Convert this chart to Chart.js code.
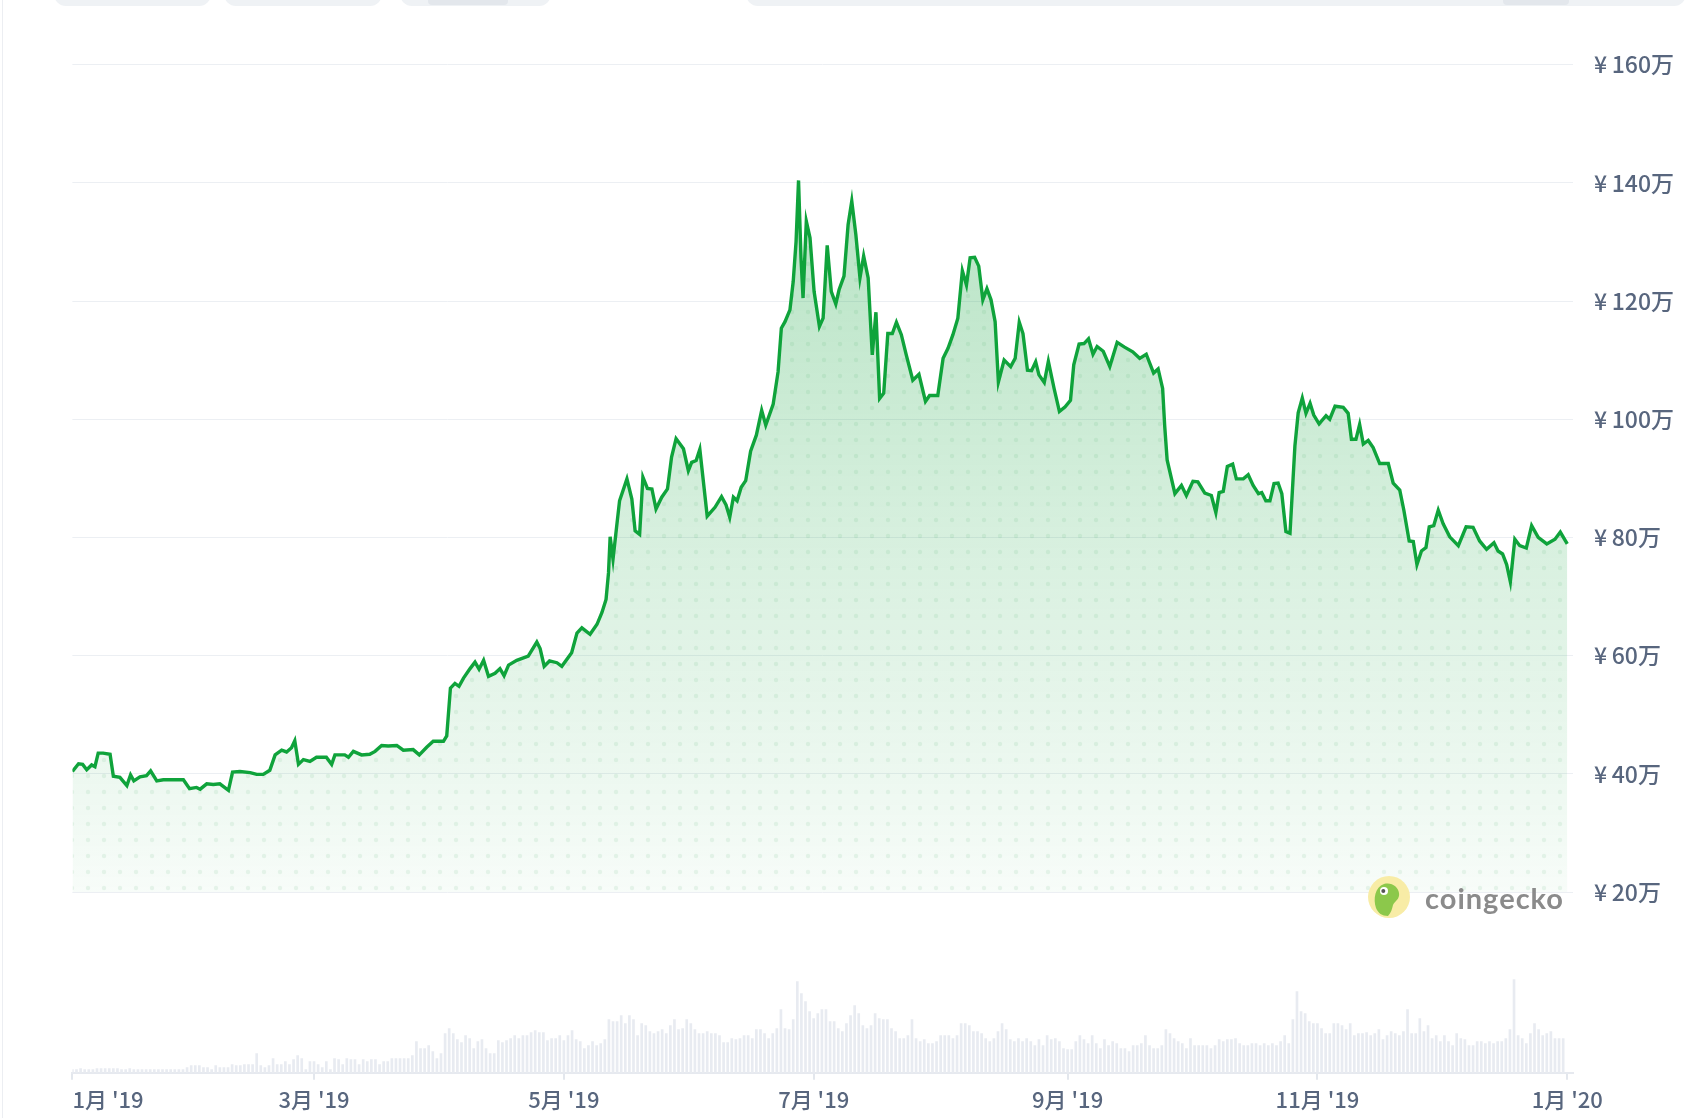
<!DOCTYPE html>
<html lang="ja">
<head>
<meta charset="utf-8">
<title>価格チャート 2019</title>
<script src="https://cdn.jsdelivr.net/npm/chart.js@4.4.1/dist/chart.umd.min.js"></script>
<style>
  html, body { margin: 0; padding: 0; background: #fff; }
  body { width: 1692px; height: 1118px; overflow: hidden; position: relative;
         font-family: "Noto Sans CJK JP", "Noto Sans", sans-serif; }
  #wrap { position: absolute; left: 0; top: 0; width: 1692px; height: 1118px; }
  .pill { position: absolute; top: -30px; height: 36px; background: #eff2f5; border-radius: 12px; }
  .pill .knob { position: absolute; bottom: 1px; height: 8px; background: #e3e7ec; border-radius: 10px; }
  .edge { position: absolute; left: 2px; top: 0; width: 1px; height: 1118px; background: #eceef2; }
  #brand { position: absolute; left: 1367px; top: 875px; height: 44px; display: flex; align-items: center; }
  #brand span { margin-left: 14px; font-family: Lato, "Noto Sans", sans-serif; font-weight: 700;
                font-size: 29px; color: #8b8b8b; letter-spacing: 1px; }
</style>
</head>
<body>
<div class="edge"></div>
<div class="pill" style="left:54px;width:157px"></div>
<div class="pill" style="left:224px;width:158px"></div>
<div class="pill" style="left:400px;width:151px"><div class="knob" style="left:28px;width:80px"></div></div>
<div class="pill" style="left:746px;width:940px"><div class="knob" style="left:757px;width:66px"></div></div>
<div id="wrap"><canvas id="price-chart"></canvas></div>
<div id="brand">
  <svg width="44" height="44" viewBox="0 0 44 44">
    <circle cx="22" cy="22" r="21" fill="#f8eca6"/>
    <path d="M9 33 C6 24 8 12 17 9 C25 7 31 12 32 18 C33 24 28 26 26 30 C25 34 24 38 21 41 C15 41 11 38 9 33 Z" fill="#8cc84b"/>
    <circle cx="17" cy="16" r="4" fill="#fff"/>
    <circle cx="16.3" cy="16" r="2" fill="#555"/>
  </svg>
  <span>coingecko</span>
</div>
<script>
// x axis: day of year, 0 = 1 Jan 2019
const monthTicks = [0, 59, 120, 181, 243, 304, 365];
const monthLabels = ["1月 '19", "3月 '19", "5月 '19", "7月 '19", "9月 '19", "11月 '19", "1月 '20"];
const priceTicks = [20, 40, 60, 80, 100, 120, 140, 160];

// [day, price in 万円]
const priceByDay = [
  [0,40.4],[1.5,41.7],[2.5,41.6],[3.5,40.7],[4.7,41.5],[5.5,41.2],[6.3,43.5],[7.5,43.5],[9.2,43.3],[10,39.6],
  [11.6,39.4],[13.3,38.0],[14.2,39.8],[15,38.8],[16.5,39.5],[18.1,39.7],[19.1,40.5],[20.6,38.8],[22.2,39.0],[27.1,39.0],
  [28.6,37.5],[30.3,37.7],[31.2,37.4],[32.8,38.3],[34.4,38.2],[36,38.3],[38.1,37.2],[39.1,40.3],[40.9,40.4],[43.4,40.2],
  [45,39.9],[46.6,39.9],[48.2,40.6],[49.5,43.2],[51.1,44.0],[52.3,43.7],[53.5,44.4],[54.3,45.6],[55.2,41.6],[56.4,42.4],
  [58,42.1],[59.6,42.8],[62,42.8],[63.3,41.6],[64.1,43.2],[66.5,43.2],[67.4,42.8],[68.6,43.8],[70.6,43.2],[72.6,43.3],
  [73.9,43.8],[75.5,44.8],[77.1,44.7],[79.2,44.8],[80.8,44.0],[83.2,44.1],[84.7,43.2],[86.5,44.5],[88.1,45.5],[90.6,45.5],
  [91.4,46.4],[92.3,54.5],[93.4,55.3],[94.4,54.8],[95.5,56.2],[97.1,57.8],[98.3,58.9],[99.3,57.7],[100.4,59.2],[101.6,56.5],
  [103.2,57.0],[104.4,57.8],[105.4,56.6],[106.5,58.4],[108.5,59.2],[111.3,59.9],[113.4,62.3],[114.2,61.2],[115.2,58.2],[116.5,59.1],
  [118.3,58.8],[119.5,58.2],[121.9,60.5],[123.2,63.8],[124.4,64.7],[126.4,63.6],[128.1,65.3],[129.3,67.3],[130.3,69.5],[130.9,74.0],
  [131.3,80.1],[132,76.3],[132.9,81.9],[133.6,86.2],[135.4,89.9],[136.6,86.5],[137.4,81.1],[138.5,80.5],[139.3,90.2],[140.4,88.3],
  [141.5,88.2],[142.5,84.8],[143.9,86.8],[145.3,88.2],[146.3,93.6],[147.4,96.7],[149.2,95.0],[150.4,91.3],[151.2,92.7],[152.3,93.0],
  [153.2,94.9],[155,83.6],[156.9,85.1],[158.5,86.9],[159.6,85.5],[160.5,83.4],[161.4,86.8],[162.3,86.2],[163.3,88.5],[164.4,89.6],
  [165.6,94.6],[167,97.3],[168.3,101.5],[169.3,99.0],[171.1,102.5],[172.3,108.0],[173.1,115.4],[174,116.5],[175.2,118.5],[176,123.3],
  [176.7,130.1],[177.3,140.4],[177.9,127.3],[178.4,120.5],[179.2,133.5],[180.1,130.7],[181.1,121.6],[182.4,115.7],[183.3,117.1],[184.3,129.4],
  [185.3,121.6],[186.4,119.5],[187.2,121.9],[188.4,124.2],[189.4,132.9],[190.3,136.9],[191.3,131.2],[192.3,123.9],[193.2,127.6],[194.3,123.9],
  [195.3,110.9],[196.2,118.1],[197.1,103.5],[198.1,104.4],[199.1,114.5],[200.2,114.5],[201.2,116.4],[202.4,114.3],[203.6,110.9],[205.2,106.6],
  [206.7,107.6],[208.3,103.0],[209.3,104.0],[211.3,104.0],[212.6,110.3],[213.8,112.0],[215,114.3],[216.2,117.1],[217.3,125.1],[218.3,122.7],
  [219.2,127.3],[220.3,127.4],[221.3,125.9],[222.3,120.2],[223.3,122.1],[224.3,120.2],[225.3,116.5],[226.1,106.3],[227.5,110.0],[229.1,108.9],
  [230.2,110.3],[231.2,116.4],[232.1,114.5],[233.2,108.3],[234.2,108.2],[235.2,109.7],[236,107.5],[237.3,106.2],[238.3,109.8],[239.7,105.2],
  [241,101.3],[242.4,102.1],[243.7,103.2],[244.5,109.2],[245.8,112.7],[247,112.8],[248.1,113.6],[249.2,111.0],[250.2,112.3],[251.7,111.5],
  [253.3,108.9],[255.1,113.0],[256.9,112.2],[258.9,111.4],[260.6,110.3],[262.2,111.0],[264,107.8],[265.1,108.5],[266.2,105.2],[266.7,98.9],
  [267.3,93.1],[269.2,87.4],[270.8,88.8],[272,87.1],[273.6,89.5],[274.8,89.4],[276.5,87.5],[278.1,87.1],[279.2,84.2],[280,87.6],
  [281,87.8],[282,92.0],[283.3,92.4],[284.2,89.9],[285.9,89.9],[287.1,90.6],[288.3,88.8],[289.6,87.4],[290.4,87.6],[291.4,86.2],
  [292.4,86.2],[293.4,89.1],[294.4,89.2],[295.3,87.4],[296.3,81.0],[297.3,80.7],[298.5,95.5],[299.3,101.1],[300.3,103.6],[301.2,101.0],
  [302.2,102.7],[303.1,100.7],[304.4,99.2],[306.1,100.6],[307,100.0],[308.3,102.2],[310.3,102.0],[311.5,101.0],[312.3,96.6],[313.4,96.6],
  [314.3,99.1],[315.2,95.8],[316.4,96.4],[317.6,95.2],[319.2,92.5],[321.3,92.5],[322.5,89.2],[324.1,88.0],[325.1,84.6],[326.4,79.4],
  [327.4,79.3],[328.3,75.4],[329.4,77.7],[330.5,78.3],[331.3,81.8],[332.4,82.0],[333.5,84.6],[334.7,82.3],[336.3,80.1],[338.4,78.6],
  [340.3,81.8],[342,81.7],[343.6,79.4],[345.3,78.0],[347.1,79.1],[348.1,77.7],[349.2,77.2],[350.2,75.4],[351.1,72.5],[352.2,79.7],
  [353.4,78.6],[355,78.2],[356.3,82.0],[357.9,80.0],[360,78.9],[362,79.7],[363.3,80.9],[365,78.9]
];

// daily trading volume (relative units), 1 Jan 2019 .. 31 Dec 2019
const volumes = [
  3,3,4,3,3,3,4,4,4,4, 4,4,3,3,4,3,3,3,3,3, 3,3,3,3,3,3,3,3,
  5,7,7,7,5,5,3,7,5,5, 5,8,7,7,8,8,8,19,7,5, 7,14,8,8,11,8,13,17,14,3,
  11,11,8,5,11,3,14,13,8,14, 13,13,8,13,11,13,13,8,11,11, 14,14,14,14,14,17,31,24,24,27,
  21,14,19,39,44,39,33,30,37,34, 24,31,33,24,19,19,32,30,32,34, 37,34,37,37,40,42,40,40,32,34,
  34,37,32,37,42,
  33,31,24,27,31,27,29,33,53,51, 51,57,49,57,53,37,49,47,41,39, 41,43,39,47,53,43,44,53,49,43,
  39,39,41,39,39,37,30,30,34,33, 34,37,37,34,43,43,39,34,39,44, 63,44,43,53,91,79,71,61,54,59,
  63,63,51,51,44,41,49,57,67,59, 47,44,47,59,54,53,53,44,41,34, 34,37,53,34,31,33,29,29,31,37,
  37,37,34,37,49,49,47,41,41,39, 34,31,34,41,49,43,33,31,34,31, 34,31,27,33,27,37,33,34,31,24,
  23,23,31,37,33,29,
  37,29,24,33,27,31,29,24,24,21, 27,27,29,37,27,24,24,27,43,39, 34,31,29,24,34,27,27,27,27,24,
  27,33,31,33,33,34,29,27,27,29, 29,27,29,27,29,27,31,37,29,53, 81,61,59,51,49,49,44,39,39,49,
  49,47,43,49,37,39,39,40,37,39, 43,33,37,41,39,37,41,63,39,39, 54,41,47,34,37,31,37,31,27,39,
  34,33,27,27,31,31,29,31,29,31, 31,34,43,93,37,34,29,39,49,43, 37,39,41,34,34,34
];

const green = '#0fa33b';
const labelColor = '#58667e';
const fontFamily = '"Noto Sans CJK JP", "Noto Sans", sans-serif';

Chart.defaults.font.family = fontFamily;

// little dot texture that sits on top of the green fill
const dotTile = document.createElement('canvas');
dotTile.width = 16; dotTile.height = 16;
const dctx = dotTile.getContext('2d');
dctx.fillStyle = 'rgba(15,140,55,0.08)';
dctx.beginPath(); dctx.arc(8, 8, 2.2, 0, Math.PI * 2); dctx.fill();
const dotPattern = dctx.createPattern(dotTile, 'repeat');

const pricePoints = priceByDay.map(p => ({x: p[0], y: p[1]}));
const volumePoints = volumes.map((v, i) => ({x: i, y: v}));
const xMax = 366.4;

function areaGradient(context) {
  const chart = context.chart;
  if (!chart.chartArea) return 'rgba(15,163,59,0.1)';
  const y = chart.scales.y;
  const g = chart.ctx.createLinearGradient(0, y.getPixelForValue(140), 0, y.getPixelForValue(20));
  g.addColorStop(0, 'rgba(15,163,59,0.3)');
  g.addColorStop(1, 'rgba(15,163,59,0.03)');
  return g;
}

new Chart(document.querySelector('#price-chart').getContext('2d'), {
  data: {
    datasets: [{
      type: 'line',
      label: '価格',
      data: pricePoints,
      borderColor: green,
      borderWidth: 3.4,
      pointRadius: 0,
      tension: 0,
      fill: {value: 20},
      backgroundColor: areaGradient,
      yAxisID: 'y',
      order: 0
    }, {
      type: 'line',
      label: '',
      data: pricePoints,
      borderWidth: 0,
      pointRadius: 0,
      fill: {value: 20},
      backgroundColor: dotPattern,
      yAxisID: 'y',
      order: 1
    }, {
      type: 'bar',
      label: '出来高',
      data: volumePoints,
      backgroundColor: '#e8ebf1',
      barThickness: 2,
      grouped: false,
      yAxisID: 'yv',
      order: 2
    }]
  },
  options: {
    responsive: true,
    maintainAspectRatio: false,
    animation: false,
    events: [],
    layout: {padding: {left: 72.4, top: 64.6, right: 0, bottom: 0}},
    plugins: {legend: {display: false}, tooltip: {enabled: false}},
    scales: {
      x: {
        type: 'linear',
        min: 0,
        max: xMax,
        offset: false,
        afterBuildTicks: s => {
          s.ticks = monthTicks.map(v => ({value: v})).concat([{value: xMax}]);
        },
        afterFit: s => { s.height = 45.3; },
        ticks: {
          autoSkip: false,
          maxRotation: 0,
          align: 'inner',
          padding: 7,
          color: labelColor,
          font: {size: 22, weight: '500'},
          callback: (v, i) => monthLabels[i] || ''
        },
        grid: {
          offset: false,
          drawOnChartArea: false,
          drawTicks: true,
          tickLength: 7,
          lineWidth: 2,
          color: c => (c.tick && c.tick.value > 365) ? 'rgba(0,0,0,0)' : '#e3e7ed'
        },
        border: {display: true, color: '#e6e9ef', width: 2}
      },
      y: {
        type: 'linear',
        position: 'right',
        min: -10.57,
        max: 160,
        afterBuildTicks: s => {
          s.ticks = priceTicks.map(v => ({value: v}));
        },
        afterFit: s => { s.width = 119; },
        ticks: {
          padding: 21,
          color: labelColor,
          font: {size: 23, weight: '500'},
          callback: v => '¥\u2009' + v + '万'
        },
        grid: {color: '#eceff3', lineWidth: 1, drawTicks: false},
        border: {display: false}
      },
      yv: {
        type: 'linear',
        display: false,
        min: 0,
        max: 1008
      }
    }
  }
});
</script>
</body>
</html>
